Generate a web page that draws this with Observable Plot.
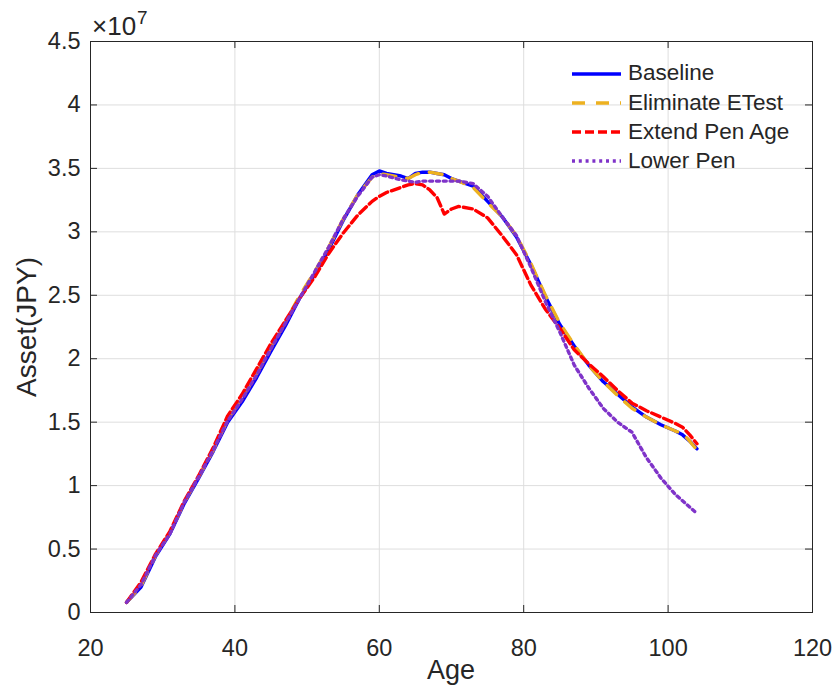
<!DOCTYPE html>
<html>
<head>
<meta charset="utf-8">
<script src="https://cdn.jsdelivr.net/npm/d3@7"></script>
<script src="https://cdn.jsdelivr.net/npm/@observablehq/plot@0.6"></script>
<style>
  body { margin: 0; background: #fff; }
  #wrap { position: relative; width: 838px; height: 690px; font-family: "Liberation Sans", Arial, Helvetica, sans-serif; color: #262626; }
  .ov { position: absolute; white-space: nowrap; line-height: 1; }
</style>
</head>
<body>
<div id="wrap"></div>
<script>
// Ages (years)
const ages = [25,27,29,31,33,35,37,39,41,43,45,47,49,51,53,55,57,59,60,61,63,64,65,66,67,68,69,70,71,73,75,77,79,81,83,85,87,89,91,93,95,97,99,101,102,103,104];
// Asset values in units of 1e7 JPY
const baseline = [0.08,0.20,0.44,0.62,0.86,1.06,1.27,1.50,1.66,1.85,2.06,2.26,2.48,2.66,2.86,3.09,3.29,3.45,3.48,3.46,3.44,3.42,3.46,3.47,3.47,3.46,3.45,3.42,3.40,3.36,3.24,3.12,2.96,2.74,2.49,2.27,2.10,1.95,1.82,1.72,1.62,1.54,1.48,1.43,1.40,1.35,1.29];
const eliminateETest = [0.08,0.21,0.45,0.63,0.87,1.07,1.28,1.52,1.69,1.88,2.09,2.29,2.50,2.68,2.88,3.10,3.29,3.43,3.46,3.45,3.43,3.42,3.45,3.47,3.47,3.46,3.45,3.42,3.40,3.35,3.23,3.12,2.97,2.75,2.50,2.28,2.11,1.95,1.82,1.71,1.61,1.54,1.48,1.43,1.41,1.35,1.28];
const extendPenAge = [0.08,0.24,0.46,0.64,0.88,1.08,1.30,1.55,1.72,1.92,2.12,2.30,2.48,2.64,2.83,2.99,3.13,3.24,3.28,3.31,3.35,3.37,3.38,3.37,3.33,3.27,3.14,3.18,3.20,3.18,3.11,2.97,2.82,2.58,2.39,2.24,2.07,1.96,1.86,1.75,1.65,1.59,1.54,1.49,1.46,1.40,1.33];
const lowerPen = [0.08,0.22,0.45,0.62,0.87,1.07,1.28,1.51,1.68,1.87,2.08,2.28,2.48,2.68,2.88,3.10,3.28,3.43,3.45,3.44,3.41,3.40,3.39,3.40,3.40,3.40,3.40,3.40,3.40,3.38,3.28,3.12,2.97,2.72,2.45,2.21,1.95,1.77,1.61,1.50,1.42,1.22,1.06,0.93,0.88,0.83,0.78];

const seriesNames = ["Baseline", "Eliminate ETest", "Extend Pen Age", "Lower Pen"];
const seriesValues = [baseline, eliminateETest, extendPenAge, lowerPen];
const seriesColors = ["#0000ff", "#EDB120", "#ff0000", "#7F33C9"];
const seriesDash = [null, "13,11", "9,4", "3,3.8"];

const xTicks = [20, 40, 60, 80, 100, 120];
const yTicks = [0, 0.5, 1, 1.5, 2, 2.5, 3, 3.5, 4, 4.5];
const yTickLabels = ["0", "0.5", "1", "1.5", "2", "2.5", "3", "3.5", "4", "4.5"];

const xLabel = "Age";
const yLabel = "Asset(JPY)";

const tables = seriesValues.map((vals, s) => ages.map((a, i) => ({age: a, value: vals[i], series: seriesNames[s]})));

const lineMarks = tables.map((t, s) => Plot.line(t, {
  x: "age", y: "value",
  stroke: seriesColors[s], strokeWidth: 3.4,
  strokeDasharray: seriesDash[s] || undefined,
  strokeLinejoin: "round"
}));

const chart = Plot.plot({
  width: 838, height: 690,
  marginLeft: 90, marginRight: 26, marginTop: 41, marginBottom: 78,
  x: {domain: [20, 120]},
  y: {domain: [0, 4.5]},
  style: {fontFamily: '"Liberation Sans", Arial, Helvetica, sans-serif', fontSize: "23.5px", color: "#262626", background: "white"},
  marks: [
    Plot.gridX(xTicks, {stroke: "#dedede", strokeOpacity: 1, strokeWidth: 1}),
    Plot.gridY(yTicks, {stroke: "#dedede", strokeOpacity: 1, strokeWidth: 1}),
    ...lineMarks,
    Plot.frame({stroke: "#262626", strokeWidth: 1}),
    Plot.ruleX(xTicks, {x: d => d, y1: 0, y2: 0, insetBottom: 7, stroke: "#262626"}),
    Plot.ruleX(xTicks, {x: d => d, y1: 4.5, y2: 4.5, insetTop: 7, stroke: "#262626"}),
    Plot.ruleY(yTicks, {y: d => d, x1: 20, x2: 20, insetLeft: 7, stroke: "#262626"}),
    Plot.ruleY(yTicks, {y: d => d, x1: 120, x2: 120, insetRight: 7, stroke: "#262626"}),
    Plot.axisX(xTicks, {tickSize: 0, tickPadding: 27, label: null, fontSize: 23.5}),
    Plot.axisY(yTicks, {tickSize: 0, tickPadding: 10, label: null, fontSize: 23.5, tickFormat: (d) => yTickLabels[yTicks.indexOf(d)]})
  ]
});

const wrap = document.getElementById("wrap");
wrap.appendChild(chart);

// multiplier label
const mult = document.createElement("div");
mult.className = "ov";
mult.style.left = "92px"; mult.style.top = "13px"; mult.style.fontSize = "26px";
mult.textContent = "×10";
wrap.appendChild(mult);
const expo = document.createElement("div");
expo.className = "ov";
expo.style.left = "137px"; expo.style.top = "7.5px"; expo.style.fontSize = "19px";
expo.textContent = "7";
wrap.appendChild(expo);

// axis titles
const xl = document.createElement("div");
xl.className = "ov";
xl.textContent = xLabel;
xl.style.fontSize = "27px";
xl.style.left = "451px"; xl.style.top = "657px"; xl.style.transform = "translateX(-50%)";
wrap.appendChild(xl);

const yl = document.createElement("div");
yl.className = "ov";
yl.textContent = yLabel;
yl.style.fontSize = "28px";
yl.style.left = "27px"; yl.style.top = "327px";
yl.style.transform = "translate(-50%, -50%) rotate(-90deg)";
wrap.appendChild(yl);

// legend
const leg = document.createElement("div");
leg.className = "ov";
leg.style.left = "572px"; leg.style.top = "59px";
seriesNames.forEach((name, s) => {
  const row = document.createElement("div");
  row.style.display = "flex"; row.style.alignItems = "center"; row.style.height = "29.2px";
  const dash = seriesDash[s] ? `stroke-dasharray="${seriesDash[s]}"` : "";
  row.innerHTML = `<svg width="49" height="10" style="display:block"><line x1="0" y1="5" x2="49" y2="5" stroke="${seriesColors[s]}" stroke-width="3.4" ${dash}/></svg><span style="font-size:22.5px;margin-left:7px">${name}</span>`;
  leg.appendChild(row);
});
wrap.appendChild(leg);
</script>
</body>
</html>
